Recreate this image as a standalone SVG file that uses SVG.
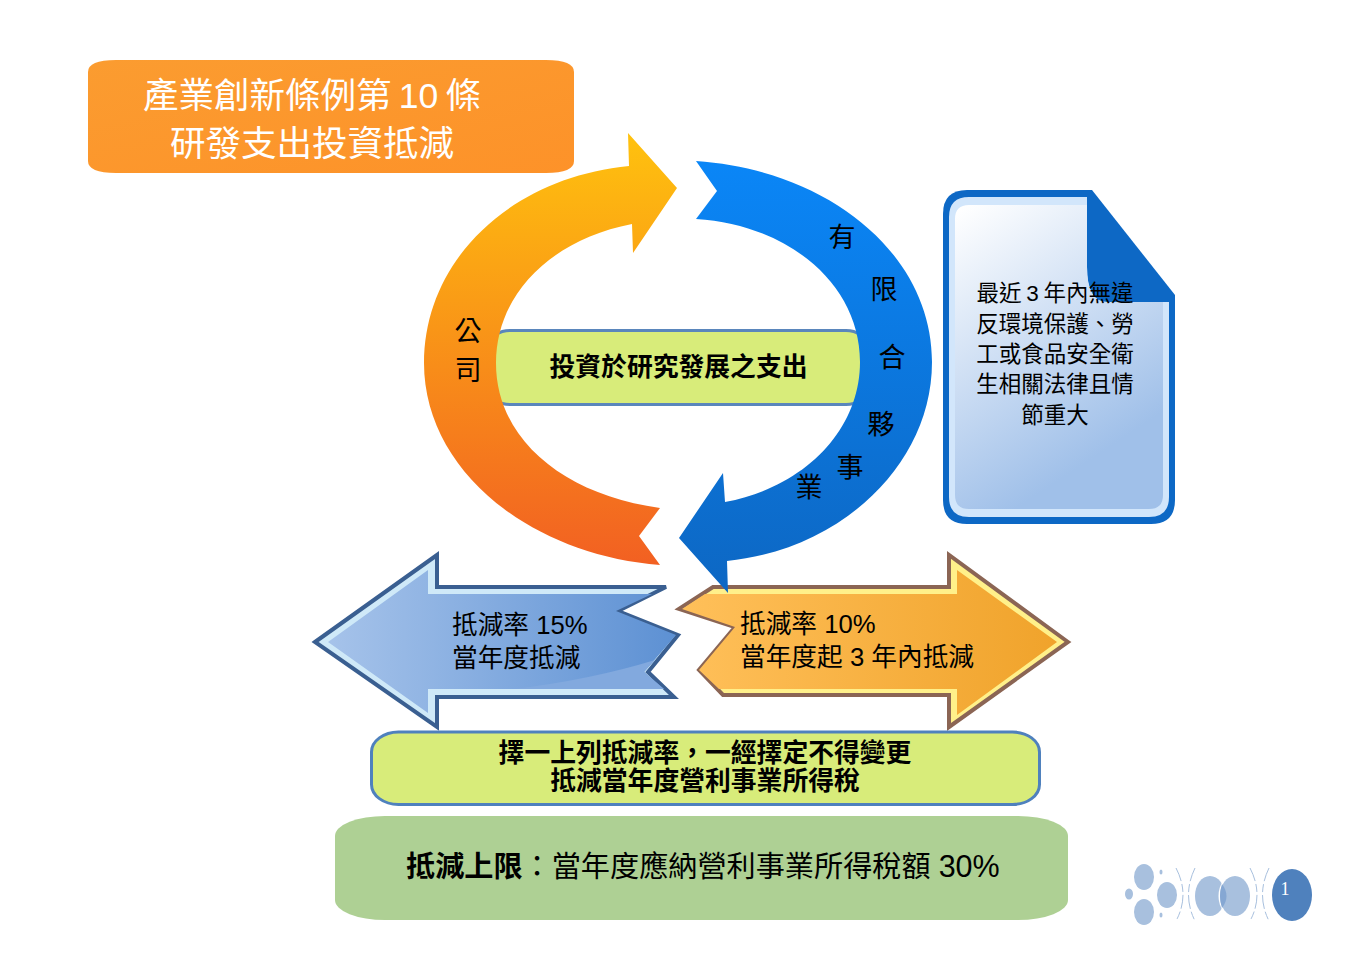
<svg xmlns="http://www.w3.org/2000/svg" width="1368" height="967" viewBox="0 0 1368 967">
<style>
text{font-family:"Liberation Sans","Noto Sans CJK TC",sans-serif;fill:#000}
.b{font-weight:700}
.w{fill:#fff}
.m{text-anchor:middle}
.lg{fill:#a8c0de}
.arc{fill:none;stroke:#a8c0de;stroke-width:1;stroke-dasharray:14 3 8 3}
</style>
<defs>
<linearGradient id="gO" gradientUnits="userSpaceOnUse" x1="0" y1="133" x2="0" y2="565"><stop offset="0" stop-color="#ffc20e"/><stop offset="1" stop-color="#f26022"/></linearGradient>
<linearGradient id="gB" gradientUnits="userSpaceOnUse" x1="0" y1="161" x2="0" y2="593"><stop offset="0" stop-color="#0a86f7"/><stop offset="1" stop-color="#0d67c3"/></linearGradient>
<linearGradient id="gT" x1="0" y1="0" x2="1" y2="1"><stop offset="0" stop-color="#fb9c30"/><stop offset="1" stop-color="#fd9229"/></linearGradient>
<linearGradient id="gD" gradientUnits="userSpaceOnUse" x1="965" y1="205" x2="1120" y2="440"><stop offset="0" stop-color="#fff"/><stop offset="1" stop-color="#a0c0e9"/></linearGradient>
<linearGradient id="gL" gradientUnits="userSpaceOnUse" x1="328" y1="0" x2="680" y2="0"><stop offset="0" stop-color="#a6c3ea"/><stop offset="1" stop-color="#5c90d3"/></linearGradient>
<linearGradient id="gR" gradientUnits="userSpaceOnUse" x1="680" y1="0" x2="1057" y2="0"><stop offset="0" stop-color="#ffc05a"/><stop offset="1" stop-color="#f0a32b"/></linearGradient>
</defs>
<rect width="1368" height="967" fill="#fff"/>

<g id="title">
<path d="M116,60H546Q574,60 574,72V161Q574,173 546,173H116Q88,173 88,161V72Q88,60 116,60Z" fill="url(#gT)"/>
<text class="w m" x="312" y="108" font-size="35.5" word-spacing="-2.5">產業創新條例第 10 條</text>
<text class="w m" x="312" y="156" font-size="35.5">研發支出投資抵減</text>
</g>

<g id="center-box">
<rect x="490" y="330.5" width="376" height="74" rx="20" ry="14" fill="#d8ec7a" stroke="#5a86bc" stroke-width="3"/>
</g>

<g id="left-arrow">
<path d="M315,642L437,555V587H666L618,611L678,635L648,672L674,697H437V727Z" fill="#cfe9f8" stroke="#3a5f91" stroke-width="4"/>
<path d="M328,642L428,570V594H652L616,611L676,635L644,672L664,689H428V713Z" fill="url(#gL)"/>
<path d="M513,689Q590,680 655,660L644,672L664,689Z" fill="#82a9de"/>
<text x="452" y="633.500" font-size="25.7">抵減率 15%</text>
<text x="452" y="667" font-size="25.7">當年度抵減</text>
</g>

<g id="right-arrow">
<path d="M1068,642L949,555V587H713L679,609L735,627L699,670L723,695H949V727Z" fill="#fff08a" stroke="#8b6554" stroke-width="4"/>
<path d="M1057,642L957,570V594H705L682,609L735,627L699,670L719,689H957V715Z" fill="url(#gR)"/>
<text x="740" y="632.500" font-size="25.7">抵減率 10%</text>
<text x="740" y="666" font-size="25.7">當年度起 3 年內抵減</text>
</g>

<g id="connectors">
<path id="cycle-left" d="M629,166L628,133L677,188L633,253L632,224C550,240 496,295 496,363C496,440 565,495 660,508L639,536L660,565C530,555 424,470 424,363C424,262 508,178 629,166Z" fill="url(#gO)"/>
<path id="cycle-right" d="M696,161C830,170 932,255 932,362C932,465 840,550 727,561L728,593L679,538L723,473L725,502C805,487 860,430 860,362C860,285 790,225 696,219L717,191Z" fill="url(#gB)"/>
</g>

<g id="center-label">
<text class="b m" x="678.500" y="376" font-size="25.8">投資於研究發展之支出</text>
</g>
<g id="cycle-left-label" font-size="27">
<text class="m" x="468" y="341">公</text>
<text class="m" x="468" y="380">司</text>
</g>
<g id="cycle-right-label" font-size="27">
<text class="m" x="842" y="247">有</text>
<text class="m" x="884" y="299">限</text>
<text class="m" x="892" y="367">合</text>
<text class="m" x="881" y="433.500">夥</text>
<text class="m" x="850" y="477">事</text>
<text class="m" x="809" y="497">業</text>
</g>

<g id="document">
<path d="M967,190H1092L1175,295V500Q1175,524 1151,524H967Q943,524 943,500V214Q943,190 967,190Z" fill="#0d68c5"/>
<path d="M969,197H1087V267Q1087,302 1107,302H1169V497Q1169,517 1149,517H969Q949,517 949,497V217Q949,197 969,197Z" fill="#d2e6fb"/>
<path d="M969,205H1087V267Q1087,302 1107,302H1163V495Q1163,509 1149,509H969Q955,509 955,495V219Q955,205 969,205Z" fill="url(#gD)"/>
<g font-size="22.5">
<text class="m" x="1055" y="301" word-spacing="-1.500">最近 3 年內無違</text>
<text class="m" x="1055" y="332">反環境保護、勞</text>
<text class="m" x="1055" y="362">工或食品安全衛</text>
<text class="m" x="1055" y="392">生相關法律且情</text>
<text class="m" x="1055" y="423">節重大</text>
</g>
</g>

<g id="choice-box">
<rect x="371.500" y="732" width="668" height="72.500" rx="27" ry="20" fill="#d8ec7a" stroke="#4f81bd" stroke-width="3"/>
<text class="b m" x="705" y="762" font-size="25.8">擇一上列抵減率，一經擇定不得變更</text>
<text class="b m" x="705" y="790" font-size="25.8">抵減當年度營利事業所得稅</text>
</g>

<g id="limit-box">
<rect x="335" y="816" width="733" height="104" rx="50" ry="20" fill="#aed094"/>
<text x="406" y="877" font-size="29.15"><tspan class="b">抵減上限</tspan>：當年度應納營利事業所得稅額 <tspan font-size="30.5">30%</tspan></text>
</g>

<g id="logo">
<ellipse class="lg" cx="1144" cy="877" rx="10" ry="13"/>
<ellipse class="lg" cx="1144" cy="912" rx="10" ry="13"/>
<ellipse class="lg" cx="1167" cy="895" rx="10" ry="13"/>
<ellipse class="lg" cx="1129" cy="894" rx="4" ry="5.500"/>
<ellipse class="lg" cx="1161" cy="872" rx="1.500" ry="2.500"/>
<ellipse class="lg" cx="1161" cy="915" rx="1.500" ry="2.500"/>
<path class="arc" d="M1176,868Q1190,895 1176,921"/>
<path class="arc" d="M1195,868Q1182,895 1195,921"/>
<path class="arc" d="M1250,868Q1264,895 1250,921"/>
<path class="arc" d="M1269,868Q1256,895 1269,921"/>
<ellipse class="lg" cx="1210" cy="896" rx="15" ry="20"/>
<ellipse cx="1235" cy="896" rx="16.500" ry="21.500" fill="#fff"/>
<ellipse class="lg" cx="1235" cy="896" rx="15" ry="20"/>
<path d="M1222,884Q1231,896 1222,908Q1218,896 1222,884Z" fill="#85a7d3"/>
<ellipse cx="1292" cy="895" rx="20" ry="26" fill="#4f81bd"/>
<text class="w m" x="1285" y="895" font-size="18" style="font-family:'Liberation Serif',serif">1</text>
</g>
</svg>
